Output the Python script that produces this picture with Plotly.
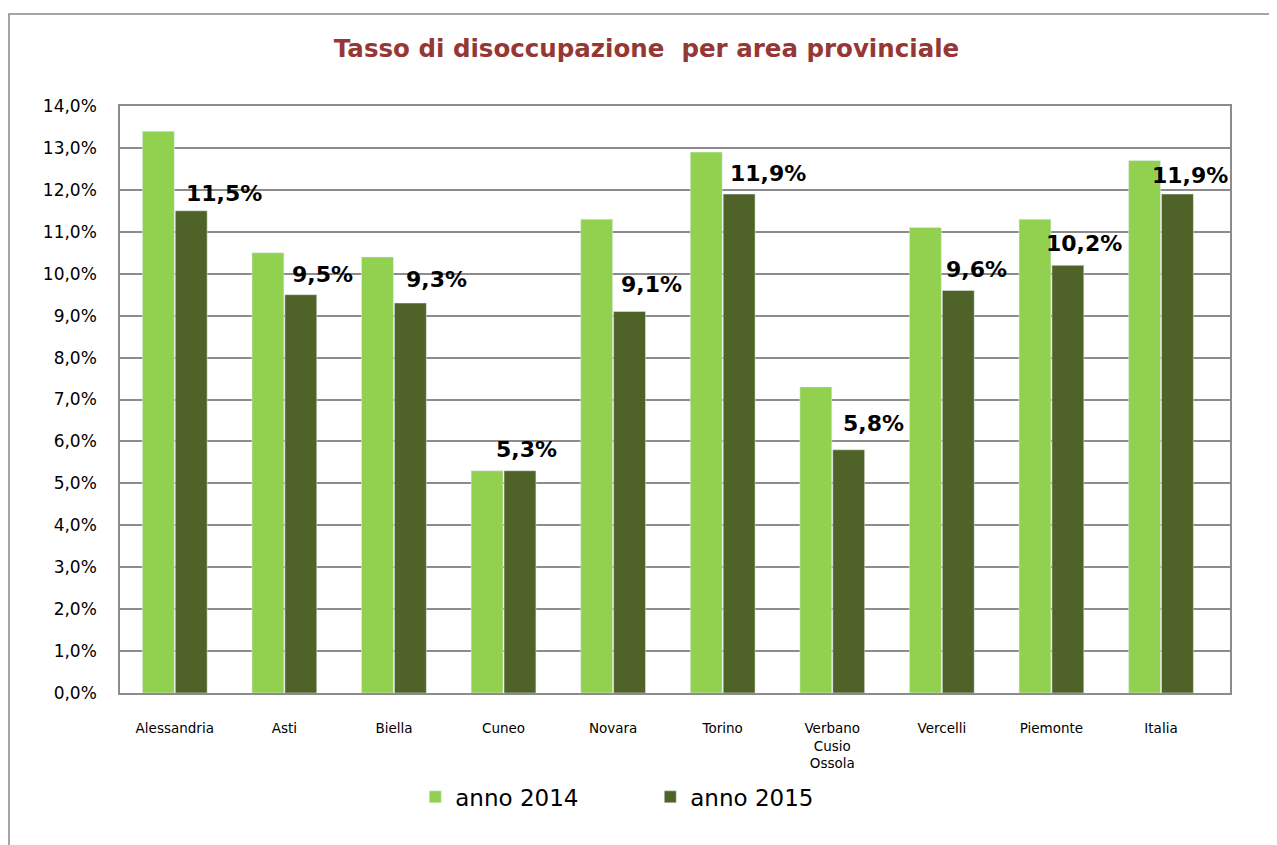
# Tasso di disoccupazione per area provinciale, 2014 vs 2015
import plotly.graph_objects as go

categories = ["Alessandria", "Asti", "Biella", "Cuneo", "Novara", "Torino",
              "Verbano<br>Cusio<br>Ossola", "Vercelli", "Piemonte", "Italia"]
anno_2014 = [13.4, 10.5, 10.4, 5.3, 11.3, 12.9, 7.3, 11.1, 11.3, 12.7]
anno_2015 = [11.5, 9.5, 9.3, 5.3, 9.1, 11.9, 5.8, 9.6, 10.2, 11.9]

# label offsets in pixels (labels were moved by hand in the original)
label_dx = [49, 38, 43, 23, 38, 45, 41, 35, 33, 29]
label_dy = [17, 20, 24, 21, 27, 21, 26, 21, 22, 19]

fig = go.Figure()
fig.add_trace(go.Bar(x=categories, y=anno_2014, name="anno 2014",
                     marker=dict(color="#92D050")))
fig.add_trace(go.Bar(x=categories, y=anno_2015, name="anno 2015",
                     marker=dict(color="#4F6228")))

for c, v, dx, dy in zip(categories, anno_2015, label_dx, label_dy):
    fig.add_annotation(x=c, y=v, xref="x", yref="y", showarrow=False,
                       text=f"{v:.1f}%".replace(".", ","),
                       xshift=dx, yshift=dy, xanchor="center", yanchor="middle",
                       font=dict(family="DejaVu Sans", size=22, color="black",
                                 weight="bold"))

# outer chart border (left and top edges visible)
fig.add_shape(type="rect", xref="paper", yref="paper",
              x0=(9 - 120) / 1110, x1=1.2, y0=-0.4, y1=(693 - 14) / 587,
              line=dict(color="#888888", width=1.5), layer="below")

# page body adds 8px offset, margins compensate
fig.update_layout(
    width=1277, height=845,
    margin=dict(l=112, r=55, t=98, b=160),
    paper_bgcolor="white", plot_bgcolor="white",
    separators=",.",
    bargap=0.4, bargroupgap=0.03,
    title=dict(text="<b>Tasso di disoccupazione  per area provinciale</b>",
               x=0.5, xanchor="center", y=1 - 40 / 845, yanchor="middle",
               font=dict(family="DejaVu Sans", size=24.5, color="#953735")),
    font=dict(family="DejaVu Sans", color="black"),
    legend=dict(orientation="h", x=0.266, xanchor="left", y=-0.177,
                yanchor="middle", entrywidth=190, entrywidthmode="pixels",
                font=dict(size=23), traceorder="normal"),
    showlegend=True,
)
fig.update_yaxes(range=[0, 14], dtick=1, tickformat=".1f", ticksuffix="%",
                 showgrid=True, gridcolor="#8c8c8c", gridwidth=1.5,
                 showline=True, linecolor="#8c8c8c", linewidth=1.5, mirror=True,
                 ticks="", ticklabelstandoff=18, tickfont=dict(size=17),
                 zeroline=False)
fig.update_xaxes(showline=True, linecolor="#8c8c8c", linewidth=1.5, mirror=True,
                 ticks="", ticklabelstandoff=22, tickfont=dict(size=13.5))

fig.write_html("out.html")
